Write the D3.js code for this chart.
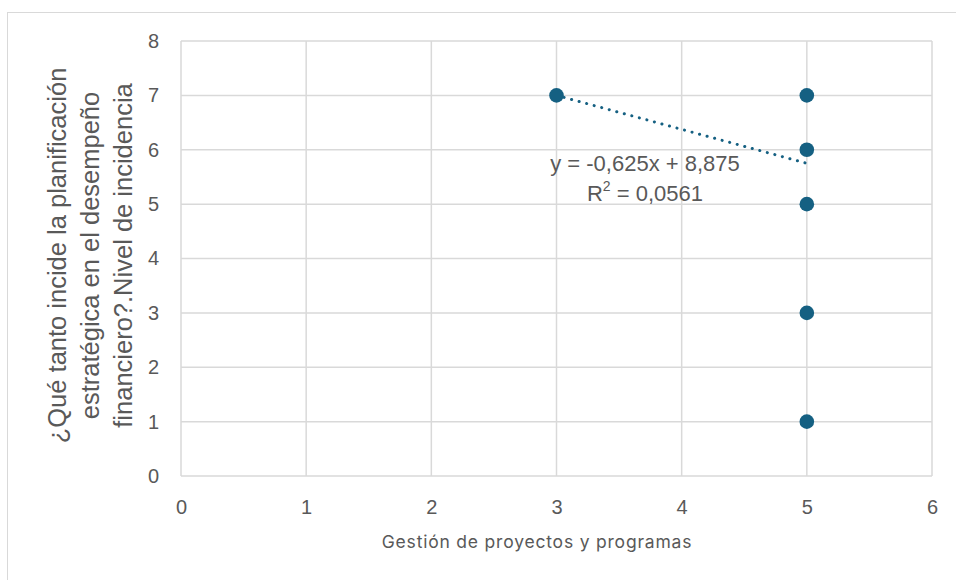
<!DOCTYPE html>
<html>
<head>
<meta charset="utf-8">
<script src="https://cdn.jsdelivr.net/npm/d3@7"></script>
<style>
  html, body { margin: 0; padding: 0; background: #fff; }
  svg { display: block; }
</style>
</head>
<body>
<svg id="chart" width="956" height="580"></svg>
<script>
// Survey responses: project management score vs. perceived impact of strategic planning
const xValues = [3, 5, 5, 5, 5, 5];
const yValues = [7, 7, 6, 5, 3, 1];

// Linear trendline reported on the chart
const trendSlope = -0.625;
const trendIntercept = 8.875;
const trendRSquared = 0.0561;
const trendXRange = [3, 5];

const xTicks = [0, 1, 2, 3, 4, 5, 6];
const yTicks = [0, 1, 2, 3, 4, 5, 6, 7, 8];

const xTitle = "Gestión de proyectos y programas";
const yTitleLines = [
  "¿Qué tanto incide la planificación",
  "estratégica en el desempeño",
  "financiero?.Nivel de incidencia"
];

const W = 956, H = 580;
const margin = { left: 181, right: 24, top: 41, bottom: 104 };
const markColor = "#156082";
const gridColor = "#d9d9d9";
const textColor = "#595959";

const svg = d3.select("#chart");

// outer chart frame
svg.append("rect")
  .attr("x", 7.5).attr("y", 12.5)
  .attr("width", W + 20).attr("height", H + 20)
  .attr("fill", "#fff").attr("stroke", gridColor).attr("stroke-width", 1);

const x = d3.scaleLinear().domain([0, 6]).range([margin.left, W - margin.right]);
const y = d3.scaleLinear().domain([0, 8]).range([H - margin.bottom, margin.top]);

// gridlines
const grid = svg.append("g");
grid.selectAll("line.h").data(yTicks).join("line")
  .attr("x1", x(0)).attr("x2", x(6))
  .attr("y1", d => y(d)).attr("y2", d => y(d))
  .attr("stroke", gridColor).attr("stroke-width", 1.5);
grid.selectAll("line.v").data(xTicks).join("line")
  .attr("y1", y(0)).attr("y2", y(8))
  .attr("x1", d => x(d)).attr("x2", d => x(d))
  .attr("stroke", gridColor).attr("stroke-width", 1.5);

// axes (labels only, no tick marks or domain)
const xAxis = svg.append("g")
  .attr("transform", `translate(0,${y(0)})`)
  .call(d3.axisBottom(x).tickValues(xTicks).tickSize(0).tickPadding(24).tickFormat(d3.format("d")));
const yAxis = svg.append("g")
  .attr("transform", `translate(${x(0)},0)`)
  .call(d3.axisLeft(y).tickValues(yTicks).tickSize(0).tickPadding(22).tickFormat(d3.format("d")));
[xAxis, yAxis].forEach(a => {
  a.select(".domain").remove();
  a.selectAll("text")
    .attr("fill", textColor)
    .style("font-family", "'Liberation Sans', Arial, sans-serif")
    .style("font-size", "20px");
});

// axis titles
svg.append("text")
  .attr("x", 537).attr("y", 548)
  .attr("text-anchor", "middle")
  .attr("fill", textColor)
  .style("font-family", "Inter, sans-serif")
  .style("font-size", "17.5px")
  .style("letter-spacing", "0.8px")
  .text(xTitle);

const yTitle = svg.append("text")
  .attr("transform", `translate(66,${(y(0) + y(8)) / 2 - 3}) rotate(-90)`)
  .attr("text-anchor", "middle")
  .attr("fill", textColor)
  .style("font-family", "'Liberation Sans', Arial, sans-serif")
  .style("font-size", "25.5px");
yTitle.selectAll("tspan").data(yTitleLines).join("tspan")
  .attr("x", 0).attr("dy", (d, i) => i === 0 ? 0 : 33)
  .text(d => d);

// trendline
const trendPoints = trendXRange.map(v => [v, trendSlope * v + trendIntercept]);
svg.append("path")
  .attr("d", d3.line().x(d => x(d[0])).y(d => y(d[1]))(trendPoints))
  .attr("fill", "none")
  .attr("stroke", markColor)
  .attr("stroke-width", 3)
  .attr("stroke-linecap", "round")
  .attr("stroke-dasharray", "0.1 7.7");

// points
const pts = xValues.map((v, i) => ({ x: v, y: yValues[i] }));
svg.append("g").selectAll("circle").data(pts).join("circle")
  .attr("cx", d => x(d.x)).attr("cy", d => y(d.y))
  .attr("r", 7.3)
  .attr("fill", markColor);

// trendline equation label
const fmt = v => String(v).replace(".", ",");
const eq = svg.append("g")
  .attr("fill", textColor)
  .style("font-family", "'Liberation Sans', Arial, sans-serif")
  .style("font-size", "22px");
eq.append("text")
  .attr("x", 645).attr("y", 171)
  .attr("text-anchor", "middle")
  .text(`y = ${fmt(trendSlope)}x + ${fmt(trendIntercept)}`);
const r2 = eq.append("text")
  .attr("x", 645).attr("y", 201)
  .attr("text-anchor", "middle");
r2.append("tspan").text("R");
r2.append("tspan").attr("dy", -10).style("font-size", "14px").text("2");
r2.append("tspan").attr("dy", 10).text(` = ${fmt(trendRSquared)}`);
</script>
</body>
</html>
